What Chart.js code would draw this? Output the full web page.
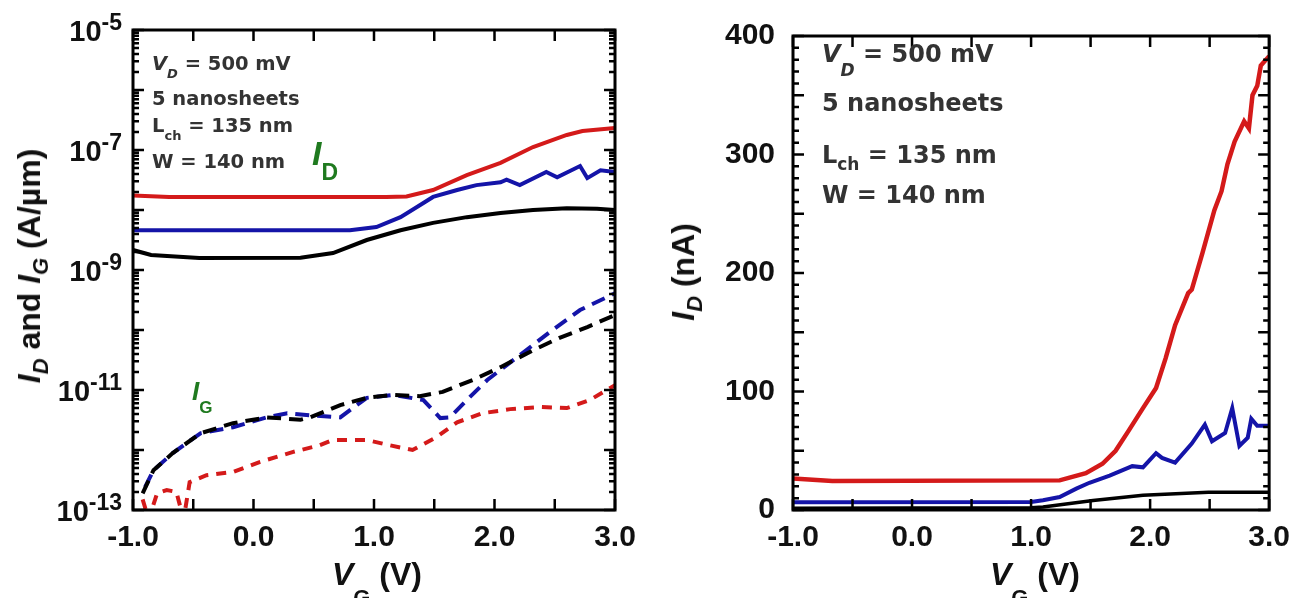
<!DOCTYPE html>
<html>
<head>
<meta charset="utf-8">
<script src="https://cdn.jsdelivr.net/npm/chart.js@4.4.0/dist/chart.umd.min.js"></script>
<style>
  body { margin: 0; background: #fff; width: 1300px; height: 598px; overflow: hidden; position: relative;
         font-family: "Liberation Sans", Arial, sans-serif; }
  canvas { position: absolute; top: 0; }
  .t { position: absolute; white-space: nowrap; line-height: 1; font-weight: bold; color: #111; }
  .note { font-family: "DejaVu Sans", sans-serif; color: #333; }
  .green { color: #1f7a1f; }
  .sub { position: relative; }
</style>
</head>
<body>
<canvas id="logChart" width="650" height="598" style="left:0"></canvas>
<canvas id="linChart" width="650" height="598" style="left:650px"></canvas>
<script>
// ---- left panel: I_D (solid) and I_G (dashed), A/um, log axis ----
const vgRedD   = [-1.0, -0.7, 1.1, 1.27, 1.49, 1.77, 2.05, 2.32, 2.60, 2.73, 3.0];
const idRedLog = [1.75e-8, 1.65e-8, 1.65e-8, 1.68e-8, 2.15e-8, 3.8e-8, 6.1e-8, 1.12e-7, 1.78e-7, 2.07e-7, 2.33e-7];

const vgBlueD   = [-1.0, 0.8, 1.02, 1.22, 1.38, 1.49, 1.69, 1.85, 2.05, 2.1, 2.21, 2.43, 2.52, 2.71, 2.77, 2.88, 3.0];
const idBlueLog = [4.6e-9, 4.6e-9, 5.2e-9, 7.6e-9, 1.2e-8, 1.65e-8, 2.15e-8, 2.6e-8, 2.9e-8, 3.2e-8, 2.6e-8, 4.3e-8, 3.5e-8, 5.4e-8, 3.4e-8, 4.6e-8, 4.3e-8];

const vgBlackD   = [-1.0, -0.85, -0.45, 0.39, 0.66, 0.94, 1.22, 1.49, 1.77, 2.05, 2.32, 2.6, 2.85, 3.0];
const idBlackLog = [2.15e-9, 1.78e-9, 1.58e-9, 1.6e-9, 1.92e-9, 3.16e-9, 4.6e-9, 6.1e-9, 7.6e-9, 8.9e-9, 1.0e-8, 1.07e-8, 1.05e-8, 1.0e-8];

const vgBlackG = [-0.92, -0.83, -0.67, -0.44, -0.17, 0.11, 0.39, 0.47, 0.72, 0.94, 1.16, 1.38, 1.57, 1.82, 2.05, 2.32, 2.54, 2.77, 3.0];
const igBlack  = [1.9e-13, 4.6e-13, 8.9e-13, 1.9e-12, 2.8e-12, 3.5e-12, 3.2e-12, 3.5e-12, 5.6e-12, 7.4e-12, 8.3e-12, 7.9e-12, 9.3e-12, 1.47e-11, 2.4e-11, 4.6e-11, 7.4e-11, 1.12e-10, 1.78e-10];

const vgBlueG = [-0.9, -0.83, -0.67, -0.44, -0.17, 0.11, 0.28, 0.47, 0.72, 0.94, 1.16, 1.41, 1.55, 1.63, 1.77, 1.94, 2.21, 2.46, 2.71, 3.0];
const igBlue  = [2.4e-13, 4.6e-13, 8.9e-13, 1.9e-12, 2.4e-12, 3.5e-12, 4.1e-12, 3.8e-12, 3.5e-12, 7.4e-12, 8.3e-12, 6.8e-12, 3.4e-12, 3.5e-12, 6.8e-12, 1.47e-11, 3.8e-11, 9.3e-11, 2.15e-10, 4.1e-10];

const vgRedG = [-0.92, -0.87, -0.8, -0.72, -0.64, -0.58, -0.53, -0.39, -0.17, 0.05, 0.33, 0.55, 0.66, 0.94, 1.13, 1.32, 1.52, 1.69, 1.9, 2.13, 2.38, 2.6, 2.79, 3.0];
const igRed  = [1.5e-13, 7e-14, 1.9e-13, 2.15e-13, 2.0e-13, 7e-14, 2.9e-13, 3.8e-13, 4.3e-13, 6.3e-13, 9.3e-13, 1.2e-12, 1.47e-12, 1.47e-12, 1.2e-12, 1.0e-12, 1.65e-12, 2.9e-12, 4.1e-12, 4.8e-12, 5.2e-12, 5.0e-12, 6.8e-12, 1.2e-11];

// ---- right panel: I_D in nA, linear axis ----
const vgRedLin = [-1.0, -0.67, 1.24, 1.46, 1.6, 1.71, 1.82, 1.94, 2.05, 2.13, 2.21, 2.32, 2.35, 2.44, 2.54, 2.6, 2.65, 2.71, 2.79, 2.83, 2.86, 2.9, 2.93, 3.0];
const idRedNA  = [26.5, 24.5, 25, 31, 39, 50, 67, 86, 103, 128, 156, 183, 186, 217, 253, 269, 292, 311, 328, 322, 350, 358, 375, 383];

const vgBlueLin = [-1.0, 1.0, 1.1, 1.24, 1.38, 1.49, 1.66, 1.85, 1.94, 2.05, 2.1, 2.21, 2.35, 2.46, 2.52, 2.63, 2.69, 2.75, 2.82, 2.85, 2.9, 3.0];
const idBlueNA  = [6.5, 6.7, 8.3, 11, 18, 23, 29, 37, 36, 48, 44, 40, 56, 72, 58, 65, 86, 54, 61, 77, 71, 71];

const vgBlackLin = [-1.0, 1.0, 1.1, 1.52, 1.94, 2.49, 3.0];
const idBlackNA  = [1.5, 1.8, 2.5, 8, 12.5, 15, 15];

// ticks
const xTickMarks  = [-1, -0.5, 0, 0.5, 1, 1.5, 2, 2.5, 3];
const logTickExps = [-5, -7, -9, -11, -13];

const RED = "#d41a1a", BLUE = "#1414a8", BLACK = "#000";
const tickFont = { family: "'Liberation Sans', Arial, sans-serif", size: 30, weight: "bold" };

const pts = (xs, ys) => xs.map((x, i) => ({ x, y: ys[i] }));

// frame box, inward tick marks on all four sides, log labels with superscripts
const frameTicks = {
  id: "frameTicks",
  afterDatasetsDraw(chart, args, opts) {
    const { ctx, chartArea: a } = chart;
    const xs = chart.scales.x, ys = chart.scales.y;
    ctx.save();
    ctx.strokeStyle = "#000";
    ctx.lineWidth = 2.5;
    ctx.beginPath();
    xTickMarks.forEach(v => {
      const px = xs.getPixelForValue(v);
      ctx.moveTo(px, a.bottom); ctx.lineTo(px, a.bottom - 11);
      ctx.moveTo(px, a.top); ctx.lineTo(px, a.top + 11);
    });
    opts.yMarks.forEach(([v, len]) => {
      const py = ys.getPixelForValue(v);
      ctx.moveTo(a.left, py); ctx.lineTo(a.left + len, py);
      ctx.moveTo(a.right, py); ctx.lineTo(a.right - len, py);
    });
    ctx.stroke();
    ctx.lineWidth = 3;
    ctx.strokeRect(a.left, a.top, a.right - a.left, a.bottom - a.top);

    if (opts.logLabels) {
      ctx.fillStyle = "#111";
      ctx.textBaseline = "alphabetic";
      ctx.textAlign = "left";
      const baseF = "bold 29px 'Liberation Sans', Arial, sans-serif";
      const expF = "bold 23px 'Liberation Sans', Arial, sans-serif";
      logTickExps.forEach(e => {
        const py = ys.getPixelForValue(Math.pow(10, e));
        const ex = String(e);
        ctx.font = expF;
        const we = ctx.measureText(ex).width;
        ctx.font = baseF;
        const wb = ctx.measureText("10").width;
        const x0 = a.left - 11 - we - wb;
        ctx.fillText("10", x0, py + 11);
        ctx.font = expF;
        ctx.fillText(ex, x0 + wb, py);
      });
    }
    ctx.restore();
  }
};

function makeChart(id, datasets, yScale, plugOpts, yWidth, padRight) {
  return new Chart(document.getElementById(id), {
    type: "line",
    data: { datasets },
    options: {
      responsive: false,
      animation: false,
      layout: { padding: { top: 30, right: padRight, left: 0, bottom: 0 } },
      elements: { point: { radius: 0 }, line: { tension: 0, borderWidth: 4 } },
      plugins: { legend: { display: false }, tooltip: { enabled: false }, frameTicks: plugOpts },
      scales: {
        x: {
          type: "linear", min: -1, max: 3,
          grid: { display: false, drawTicks: false }, border: { display: false },
          ticks: { stepSize: 1, padding: 10, color: "#111", font: tickFont, maxRotation: 0, autoSkip: false,
                   callback: v => Number(v).toFixed(1) },
          afterFit: s => { s.height = 88; }
        },
        y: Object.assign({
          grid: { display: false, drawTicks: false }, border: { display: false },
          afterFit: s => { s.width = yWidth; }
        }, yScale)
      }
    },
    plugins: [frameTicks]
  });
}

// log tick marks: decades long, 2..9 short
const logMarks = [];
for (let e = -13; e < -5; e++) for (let k = 1; k <= 9; k++) logMarks.push([k * Math.pow(10, e), k === 1 ? 11 : 6]);
logMarks.push([1e-5, 11]);
const linMarks = [];
for (let v = 0; v <= 400; v += 10) linMarks.push([v, v % 50 === 0 ? 11 : 6]);

makeChart("logChart", [
  { data: pts(vgRedD, idRedLog), borderColor: RED },
  { data: pts(vgBlueD, idBlueLog), borderColor: BLUE },
  { data: pts(vgBlackD, idBlackLog), borderColor: BLACK },
  { data: pts(vgRedG, igRed), borderColor: RED, borderDash: [10, 8] },
  { data: pts(vgBlackG, igBlack), borderColor: BLACK, borderDash: [14, 8] },
  { data: pts(vgBlueG, igBlue), borderColor: BLUE, borderDash: [14, 8] }
], {
  type: "logarithmic", min: 1e-13, max: 1e-5,
  ticks: { display: false }
}, { yMarks: logMarks, logLabels: true }, 133, 35);

makeChart("linChart", [
  { data: pts(vgBlackLin, idBlackNA), borderColor: BLACK, borderWidth: 3.5 },
  { data: pts(vgBlueLin, idBlueNA), borderColor: BLUE },
  { data: pts(vgRedLin, idRedNA), borderColor: RED, borderWidth: 4.5 }
], {
  type: "linear", min: 0, max: 400,
  ticks: { stepSize: 100, padding: 18, color: "#111", font: tickFont }
}, { yMarks: linMarks, logLabels: false }, 143, 25);

// ---- text overlays ----
function addText(html, x, base, size, cls, extra) {
  const d = document.createElement("div");
  d.className = "t " + (cls || "");
  d.innerHTML = html;
  d.style.left = x + "px";
  d.style.top = (base - 0.846 * size) + "px";
  d.style.fontSize = size + "px";
  if (extra) Object.assign(d.style, extra);
  document.body.appendChild(d);
  return d;
}
const sub = (t, size, drop, ital) =>
  `<span class="sub" style="font-size:${size}px;top:${drop}px">${ital ? "<i>" + t + "</i>" : t}</span>`;

function addRotated(html, cx, cy, size) {
  const d = document.createElement("div");
  d.className = "t";
  d.innerHTML = html;
  d.style.fontSize = size + "px";
  d.style.left = cx + "px";
  d.style.top = cy + "px";
  d.style.transform = "translate(-50%,-50%) rotate(-90deg)";
  document.body.appendChild(d);
}

// left notes
addText(`<i>V</i>${sub("D", 13, 8, true)} = 500 mV`, 152, 70, 19.5, "note");
addText("5 nanosheets", 152, 105, 19.5, "note");
addText(`L${sub("ch", 13, 8)} = 135 nm`, 152, 132, 19.5, "note");
addText("W = 140 nm", 152, 168, 19.5, "note");
// right notes
addText(`<i>V</i>${sub("D", 17, 14, true)} = 500 mV`, 822, 62, 24, "note");
addText("5 nanosheets", 822, 111, 24, "note");
addText(`L${sub("ch", 17, 7)} = 135 nm`, 822, 163, 24, "note");
addText("W = 140 nm", 822, 203, 24, "note");

// series labels
addText(`<i>I</i>${sub("D", 23, 15)}`, 312, 165, 34, "green");
addText(`<i>I</i>${sub("G", 17, 13)}`, 192, 400, 26, "green");

// axis titles
addText(`<i>V</i>${sub("G", 22, 20)} (V)`, 377, 585, 32, "", { transform: "translateX(-50%)" });
addText(`<i>V</i>${sub("G", 22, 20)} (V)`, 1035, 585, 32, "", { transform: "translateX(-50%)" });
addRotated(`<i>I</i>${sub("D", 22, 8, true)} and <i>I</i>${sub("G", 22, 8, true)} (A/µm)`, 29, 266, 32);
addRotated(`<i>I</i>${sub("D", 22, 8, true)} (nA)`, 683, 272, 32);
</script>
</body>
</html>
